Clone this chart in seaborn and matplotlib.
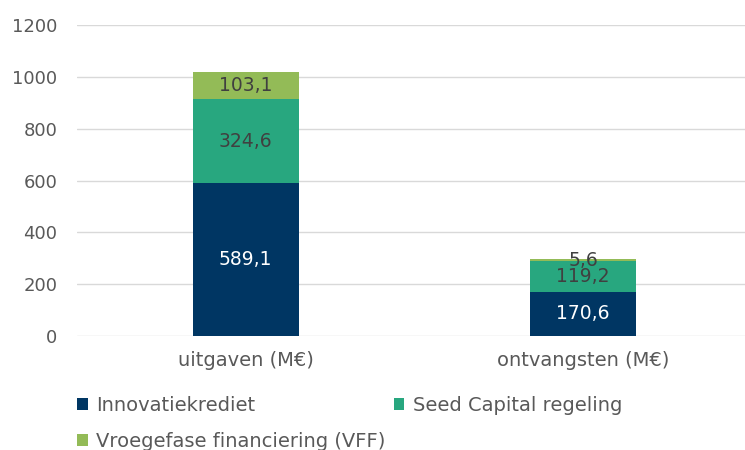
import numpy as np
import pandas as pd
import matplotlib
matplotlib.use("Agg")
import matplotlib.pyplot as plt
import seaborn as sns

categories = ["uitgaven (M€)", "ontvangsten (M€)"]
innovatiekrediet = [589.1, 170.6]
seed_capital = [324.6, 119.2]
vff = [103.1, 5.6]
series_names = ["Innovatiekrediet", "Seed Capital regeling", "Vroegefase financiering (VFF)"]
colors = ["#003663", "#28a77f", "#93bb57"]
label_colors = ["white", "#404040", "#404040"]

sns.set_style("white")
plt.rcParams["font.family"] = ["DejaVu Sans"]

fig = plt.figure(figsize=(7.45, 4.5), dpi=100)
ax = fig.add_axes([77 / 745, 1 - 336 / 450, 675 / 745, 311 / 450])

bottom = np.zeros(len(categories))
for name, vals, col, lc in zip(series_names, [innovatiekrediet, seed_capital, vff], colors, label_colors):
    df = pd.DataFrame({"cat": categories, "val": vals})
    sns.barplot(data=df, x="cat", y="val", color=col, width=0.314, bottom=bottom,
                ax=ax, label=name, saturation=1, linewidth=0)
    for i, v in enumerate(vals):
        ax.text(i, bottom[i] + v / 2, f"{v:.1f}".replace(".", ","), ha="center", va="center",
                color=lc, fontsize=13.5)
    bottom = bottom + np.array(vals)

if ax.get_legend() is not None:
    ax.get_legend().remove()

ax.set_ylim(0, 1200)
ax.set_yticks(range(0, 1201, 200))
ax.set_xlim(-0.5, 1.5)
ax.set_xlabel("")
ax.set_ylabel("")
ax.grid(axis="y", color="#d9d9d9", linewidth=1)
ax.set_axisbelow(True)
for s in ax.spines.values():
    s.set_visible(False)
ax.tick_params(axis="both", length=0, labelsize=13, labelcolor="#595959")
ax.tick_params(axis="x", pad=11, labelsize=14)
ax.tick_params(axis="y", pad=14)

handles, labels = ax.get_legend_handles_labels()
order = [0, 2, 1]
fig.legend([handles[i] for i in order], [labels[i] for i in order], loc="upper left",
           bbox_to_anchor=(77 / 745, 1 - 396 / 450), ncol=2,
           frameon=False, fontsize=14, labelcolor="#595959", handlelength=0.55, handleheight=0.55,
           handletextpad=0.45, columnspacing=0.4, borderaxespad=0, borderpad=0, labelspacing=0.85)

fig.savefig("out.png", dpi=100)
